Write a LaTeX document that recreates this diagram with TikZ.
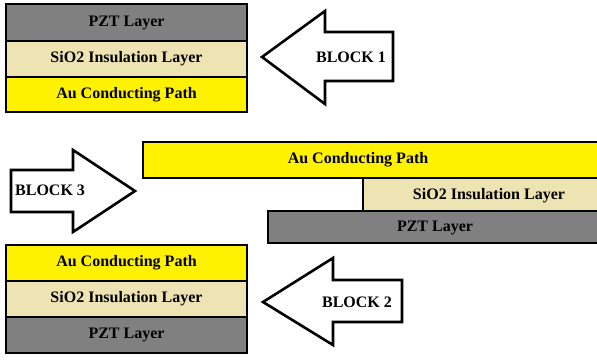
\documentclass[tikz,border=0pt]{standalone}
\usepackage{fontspec}
\setmainfont{Liberation Serif}
\definecolor{pztgray}{RGB}{128,128,128}
\definecolor{sioxide}{RGB}{238,227,178}
\definecolor{goldpath}{RGB}{255,242,0}
\tikzset{
  layer/.style={draw=black, line width=2.8pt, inner sep=0pt, outer sep=0pt,
    font=\fontsize{16}{18}\selectfont\bfseries},
  pzt/.style={layer, fill=pztgray},
  sio/.style={layer, fill=sioxide},
  au/.style={layer, fill=goldpath},
  layertext/.style={font=\fontsize{16}{18}\selectfont\bfseries, inner sep=0pt},
  blockarrow/.style={draw=black, line width=2.6pt, fill=white, line join=miter},
  blocklabel/.style={font=\fontsize{16}{18}\selectfont\bfseries, inner sep=0pt}
}
\begin{document}
\begin{tikzpicture}[x=1pt, y=-1pt]
\useasboundingbox (0,0) rectangle (597,361);

% Block 1 stack
\draw[pzt] (6,4) rectangle (247,41) node[midway, layertext] (b1pzt) {PZT Layer};
\draw[sio] (6,41) rectangle (247,77) node[midway, layertext] (b1sio) {SiO2 Insulation Layer};
\draw[au] (6,77) rectangle (247,112) node[midway, layertext] (b1au) {Au Conducting Path};

% Block 1 arrow (pointing left)
\draw[blockarrow] (262,57) -- (325,11) -- (325,32) -- (393,32) -- (393,81)
  -- (325,81) -- (325,104) -- cycle;
\node[blocklabel] (b1lbl) at (351,57) {BLOCK 1};

% Block 3 arrow (pointing right)
\draw[blockarrow] (11,170) -- (73,170) -- (73,150) -- (135,191) -- (73,232)
  -- (73,212) -- (11,212) -- cycle;
\node[blocklabel, anchor=west] (b3lbl) at (15,190) {BLOCK 3};

% Block 3 stepped stack
\draw[au] (143,142) rectangle (603,178);
\node[layertext] (b3au) at (358,160) {Au Conducting Path};
\draw[sio] (363,178) rectangle (603,211);
\node[layertext] (b3sio) at (489,196) {SiO2 Insulation Layer};
\draw[pzt] (268,211) rectangle (603,243);
\node[layertext] (b3pzt) at (435,228) {PZT Layer};

% Block 2 stack
\draw[au] (6,245) rectangle (247,281) node[midway, layertext] (b2au) {Au Conducting Path};
\draw[sio] (6,281) rectangle (247,317) node[midway, layertext] (b2sio) {SiO2 Insulation Layer};
\draw[pzt] (6,317) rectangle (247,353) node[midway, layertext] (b2pzt) {PZT Layer};

% Block 2 arrow (pointing left)
\draw[blockarrow] (263,302) -- (333,258) -- (333,280) -- (402,280) -- (402,322)
  -- (333,322) -- (333,345) -- cycle;
\node[blocklabel] (b2lbl) at (357,302) {BLOCK 2};
\end{tikzpicture}
\end{document}
